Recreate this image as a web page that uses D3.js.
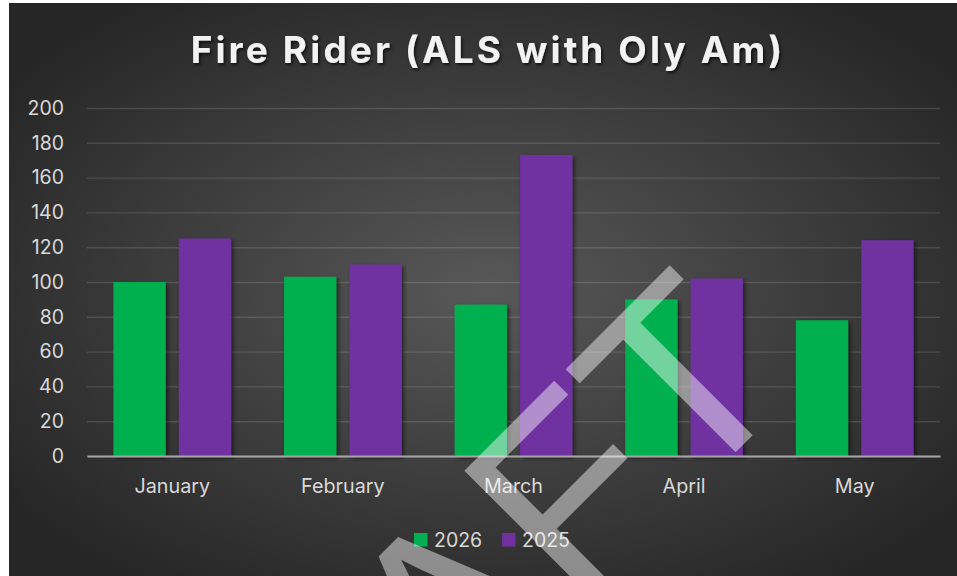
<!DOCTYPE html>
<html>
<head>
<meta charset="utf-8">
<script src="https://cdn.jsdelivr.net/npm/d3@7"></script>
<style>
  html, body { margin: 0; padding: 0; background: #ffffff; }
  svg { display: block; }
  .tick text { font-family: Inter, "Noto Sans", sans-serif; }
</style>
</head>
<body>
<div id="chart"></div>
<script>
var title = "Fire Rider (ALS with Oly Am)";
var months = ["January", "February", "March", "April", "May"];
var seriesNames = ["2026", "2025"];
var values2026 = [100, 103, 87, 90, 78];
var values2025 = [125, 110, 173, 102, 124];
var yTicks = [0, 20, 40, 60, 80, 100, 120, 140, 160, 180, 200];
var colors = ["#00b050", "#7030a0"];

var width = 957,
    height = 576,
    margins = { top: 108, right: 17, bottom: 120, left: 87 };

var svg = d3.select('#chart').append('svg')
  .attr('width', width)
  .attr('height', height);

var defs = svg.append('defs');

var grad = defs.append('radialGradient')
  .attr('id', 'bg')
  .attr('cx', '50%').attr('cy', '50%').attr('r', '62%');
grad.append('stop').attr('offset', '0%').attr('stop-color', '#585858');
grad.append('stop').attr('offset', '100%').attr('stop-color', '#262626');

var shadow = defs.append('filter')
  .attr('id', 'barShadow')
  .attr('x', '-20%').attr('y', '-20%').attr('width', '140%').attr('height', '140%');
shadow.append('feDropShadow')
  .attr('dx', 2).attr('dy', 2).attr('stdDeviation', 2.2)
  .attr('flood-color', '#000').attr('flood-opacity', 0.55);

var titleShadow = defs.append('filter')
  .attr('id', 'titleShadow')
  .attr('x', '-10%').attr('y', '-30%').attr('width', '120%').attr('height', '160%');
titleShadow.append('feDropShadow')
  .attr('dx', 1.5).attr('dy', 2).attr('stdDeviation', 1.5)
  .attr('flood-color', '#000').attr('flood-opacity', 0.7);

// background
svg.append('rect')
  .attr('x', 9).attr('y', 3)
  .attr('width', width).attr('height', height)
  .attr('fill', 'url(#bg)');

// title
svg.append('text')
  .attr('x', 488).attr('y', 63)
  .attr('text-anchor', 'middle')
  .attr('font-family', 'Inter, "Noto Sans", sans-serif')
  .attr('font-weight', 700)
  .attr('font-size', 37)
  .attr('letter-spacing', 3.1)
  .attr('fill', '#f2f2f2')
  .attr('filter', 'url(#titleShadow)')
  .text(title);

var x0 = d3.scaleBand()
  .domain(months)
  .range([margins.left, width - margins.right])
  .paddingInner(0.31)
  .paddingOuter(0.155);

var x1 = d3.scaleBand()
  .domain(seriesNames)
  .range([0, x0.bandwidth()])
  .paddingInner(0.2);

var y = d3.scaleLinear()
  .domain([0, 200])
  .range([height - margins.bottom, margins.top]);

// gridlines
var yAxis = d3.axisLeft(y)
  .tickValues(yTicks)
  .tickSize(-(width - margins.left - margins.right))
  .tickPadding(23);

var gy = svg.append('g')
  .attr('transform', 'translate(' + margins.left + ',0)')
  .call(yAxis);
gy.select('.domain').remove();
gy.selectAll('.tick line')
  .attr('stroke', '#ffffff')
  .attr('stroke-opacity', 0.13)
  .attr('stroke-width', 1.4);
gy.selectAll('.tick text')
  .attr('fill', '#d9d9d9')
  .attr('font-size', 19.5);

// bars
var rows = months.map(function(m, i) {
  return { month: m, vals: [values2026[i], values2025[i]] };
});

var groups = svg.append('g').selectAll('g')
  .data(rows)
  .enter().append('g')
  .attr('transform', function(d) { return 'translate(' + x0(d.month) + ',0)'; });

groups.selectAll('rect')
  .data(function(d) {
    return d.vals.map(function(v, j) { return { key: seriesNames[j], value: v, idx: j }; });
  })
  .enter().append('rect')
  .attr('x', function(d) { return x1(d.key); })
  .attr('y', function(d) { return y(d.value); })
  .attr('width', x1.bandwidth())
  .attr('height', function(d) { return y(0) - y(d.value); })
  .attr('fill', function(d) { return colors[d.idx]; })
  .attr('filter', 'url(#barShadow)');

// x axis
var xAxis = d3.axisBottom(x0).tickSize(0).tickPadding(23);
var gx = svg.append('g')
  .attr('transform', 'translate(0,' + y(0) + ')')
  .call(xAxis);
gx.select('.domain')
  .attr('stroke', '#a6a6a6')
  .attr('stroke-width', 2);
gx.selectAll('.tick text')
  .attr('fill', '#d9d9d9')
  .attr('font-size', 19.8);

// legend
var legend = svg.append('g').attr('transform', 'translate(414,533)');
var legendX = [0, 88];
seriesNames.forEach(function(name, i) {
  var item = legend.append('g').attr('transform', 'translate(' + legendX[i] + ',0)');
  item.append('rect')
    .attr('width', 13.5).attr('height', 13.5)
    .attr('fill', colors[i]);
  item.append('text')
    .attr('x', 20).attr('y', 13.5)
    .attr('font-family', 'Inter, "Noto Sans", sans-serif')
    .attr('font-size', 19.5)
    .attr('fill', '#d9d9d9')
    .text(name);
});

// watermark
svg.append('text')
  .attr('transform', 'translate(494,694) rotate(-45)')
  .attr('text-anchor', 'middle')
  .attr('font-family', '"Liberation Sans", Arial, sans-serif')
  .attr('font-size', 260)
  .attr('fill', '#ffffff')
  .attr('fill-opacity', 0.45)
  .text('DRAFT');
</script>
</body>
</html>
